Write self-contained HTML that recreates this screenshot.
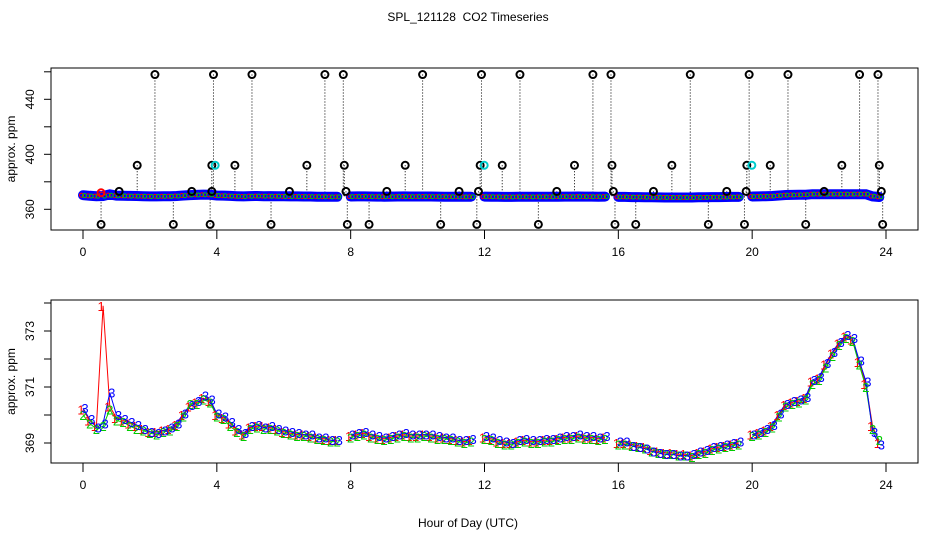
<!DOCTYPE html>
<html><head><meta charset="utf-8"><style>
html,body{margin:0;padding:0;background:#fff;}
svg{display:block;font-family:"Liberation Sans",sans-serif;}
text{white-space:pre;}
</style></head><body>
<svg id="chart" width="936" height="540" viewBox="0 0 936 540" xmlns="http://www.w3.org/2000/svg">
<text x="468" y="21" font-size="12" text-anchor="middle" xml:space="preserve">SPL_121128  CO2 Timeseries</text>
<text x="468" y="527" font-size="12" text-anchor="middle">Hour of Day (UTC)</text>
<g id="topPanel"></g>
<g id="botPanel"></g>
</svg>
<script>
const hourStep = 0.2;
const xTicks = [0,4,8,12,16,20,24];
const topYTicks = [360,380,400,420,440,460];
const topYLabels = ["360","","400","","440",""];
const botYTicks = [369,370,371,372,373,374];
const botYLabels = ["369","","371","","373",""];
const series1 = [370.2,369.8,369.6,373.9,370.3,369.9,369.8,369.7,369.6,369.5,369.4,369.4,369.45,369.5,369.65,370.0,370.3,370.45,370.6,370.5,370.0,369.9,369.7,369.45,369.3,369.55,369.6,369.6,369.55,369.5,369.4,369.35,369.3,369.3,369.25,369.2,369.15,369.1,369.1,null,369.25,369.3,369.35,369.25,369.2,369.15,369.2,369.25,369.3,369.25,369.25,369.3,369.25,369.2,369.2,369.15,369.1,369.05,369.1,null,369.2,369.15,369.05,369.0,369.0,369.05,369.1,369.05,369.05,369.1,369.1,369.15,369.2,369.2,369.25,369.2,369.2,369.15,369.2,null,369.0,369.0,368.95,368.9,368.85,368.75,368.7,368.65,368.65,368.6,368.6,368.55,368.65,368.7,368.8,368.85,368.9,368.95,369.0,null,369.3,369.35,369.45,369.6,370.0,370.35,370.45,370.5,370.6,371.2,371.3,371.8,372.2,372.55,372.8,372.7,371.9,371.1,369.6,369.0];
const series2 = [370.0,369.7,369.5,369.6,370.2,369.8,369.75,369.6,369.5,369.45,369.35,369.3,369.4,369.45,369.6,369.95,370.4,370.4,370.55,370.45,369.95,369.85,369.6,369.4,369.25,369.5,369.55,369.5,369.5,369.45,369.35,369.3,369.25,369.25,369.2,369.15,369.1,369.05,369.05,null,369.2,369.25,369.3,369.2,369.15,369.1,369.15,369.2,369.25,369.2,369.2,369.25,369.2,369.15,369.15,369.1,369.05,369.0,369.05,null,369.15,369.1,369.0,368.95,368.95,369.0,369.05,369.0,369.0,369.05,369.05,369.1,369.15,369.15,369.2,369.15,369.15,369.1,369.15,null,368.95,368.95,368.9,368.85,368.8,368.7,368.65,368.6,368.6,368.55,368.55,368.5,368.6,368.65,368.75,368.8,368.85,368.9,368.95,null,369.25,369.3,369.4,369.55,369.95,370.3,370.4,370.45,370.55,371.1,371.25,371.7,372.1,372.5,372.75,372.65,371.8,371.0,369.5,369.1];
const series3 = [370.25,369.85,369.55,369.7,370.8,370.0,369.85,369.75,369.65,369.5,369.4,369.35,369.45,369.55,369.7,370.05,370.35,370.5,370.7,370.55,370.05,369.95,369.75,369.5,369.35,369.6,369.65,369.55,369.6,369.5,369.45,369.4,369.35,369.3,369.3,369.2,369.2,369.1,369.1,null,369.3,369.35,369.4,369.3,369.25,369.2,369.25,369.3,369.35,369.3,369.3,369.3,369.3,369.25,369.2,369.2,369.1,369.1,369.15,null,369.25,369.2,369.1,369.05,369.0,369.1,369.15,369.1,369.1,369.15,369.15,369.2,369.25,369.25,369.3,369.25,369.25,369.2,369.25,null,369.05,369.05,368.9,368.85,368.8,368.7,368.65,368.6,368.6,368.55,368.55,368.6,368.7,368.75,368.85,368.9,368.95,369.0,369.05,null,369.3,369.4,369.5,369.65,370.05,370.4,370.5,370.55,370.65,371.25,371.35,371.85,372.25,372.6,372.85,372.75,371.95,371.2,369.4,368.95];
const outlierHours = [0.54,1.08,1.62,2.15,2.7,3.25,3.8,3.85,3.85,3.9,4.54,5.05,5.62,6.17,6.69,7.23,7.78,7.81,7.86,7.9,8.55,9.08,9.63,10.15,10.69,11.24,11.77,11.82,11.87,11.91,12.53,13.06,13.61,14.16,14.69,15.24,15.78,15.81,15.85,15.9,16.52,17.05,17.6,18.15,18.69,19.24,19.77,19.82,19.84,19.91,20.54,21.07,21.6,22.15,22.68,23.21,23.76,23.8,23.86,23.9];
const outlierValues = [349,373,392,458,349,373,349,373,392,458,392,458,349,373,392,458,458,392,373,349,349,373,392,458,349,373,349,373,392,458,392,458,349,373,392,458,458,392,373,349,349,373,392,458,349,373,349,373,392,458,392,458,349,373,392,458,458,392,373,349];
const cyanHours = [3.95,11.99,19.99];
const cyanValues = [392,392,392];

const NS="http://www.w3.org/2000/svg";
function mk(tag,attrs,parent){const e=document.createElementNS(NS,tag);for(const k in attrs)e.setAttribute(k,attrs[k]);parent.appendChild(e);return e;}
const X0=51,X1=918;
function xs(h){return 83+h*(886-83)/24;}
const topP={y0:68,y1:230,ys:v=>209.3-(v-360)*(110/80)};
const botP={y0:300,y1:463,ys:v=>443-(v-369)*28};
const colors=["#ff0000","#00cc00","#0000ff"];
const allSeries=[series1,series2,series3];

function axes(g,p,yt,yl,name){
  const box=mk('rect',{x:X0,y:p.y0,width:X1-X0,height:p.y1-p.y0,fill:'none',stroke:'#000','stroke-width':1},g);
  
  
  const xa=mk('g',{},g);
  
  
  xTicks.forEach(t=>{
    mk('line',{x1:xs(t),x2:xs(t),y1:p.y1,y2:p.y1+9,stroke:'#000'},xa);
    const tx=mk('text',{x:xs(t),y:p.y1+26,'font-size':12,'text-anchor':'middle'},xa);
    tx.textContent=t;
    
    
  });
  const ya=mk('g',{},g);
  
  
  yt.forEach((t,i)=>{
    const y=p.ys(t);
    mk('line',{x1:X0-7,x2:X0,y1:y,y2:y,stroke:'#000'},ya);
    if(yl[i]){
      const tx=mk('text',{x:34,y:y,'font-size':12,'text-anchor':'middle',transform:`rotate(-90 34 ${y})`},ya);
      tx.textContent=yl[i];
      
      
    }
  });
  const cy=(p.y0+p.y1)/2;
  const yt2=mk('text',{x:15,y:cy,'font-size':12,'text-anchor':'middle',transform:`rotate(-90 15 ${cy})`},g);
  yt2.textContent='approx. ppm';
  
  
}

// top panel
const topG=document.getElementById('topPanel');
axes(topG,topP,topYTicks,topYLabels,'top');
outlierHours.forEach((h,i)=>{
  const ln=mk('line',{x1:xs(h),x2:xs(h),y1:topP.ys(outlierValues[i]),y2:topP.ys(369.5),stroke:'#000','stroke-width':1,'stroke-dasharray':'1,2'},topG);
  
  
});
{
  let d='',pen=false;
  series3.forEach((v,i)=>{
    if(v===null){pen=false;return;}
    d+=(pen?'L':'M')+xs(i*hourStep).toFixed(1)+','+topP.ys(Math.min(v,371)).toFixed(1);pen=true;
  });
  const band=mk('path',{d:d,fill:'none',stroke:'#0000ff','stroke-width':10,'stroke-linecap':'round'},topG);
  
  
}
[0,1].forEach(si=>{
  allSeries[si].forEach((v,i)=>{
    if(v===null)return;
    const c=mk('circle',{cx:xs(i*hourStep)+(si?1.5:-1.5),cy:topP.ys(Math.min(v,371)),r:2,fill:'none',stroke:colors[si],'stroke-width':1},topG);
    
    
  });
});
outlierHours.forEach((h,i)=>{
  const c=mk('circle',{cx:xs(h),cy:topP.ys(outlierValues[i]),r:3.5,fill:'none',stroke:'#000','stroke-width':2},topG);
  
  
});
cyanHours.forEach((h,i)=>{
  const c=mk('circle',{cx:xs(h),cy:topP.ys(cyanValues[i]),r:3.5,fill:'none',stroke:'#00cccc','stroke-width':2},topG);
  
  
});
{
  const c=mk('circle',{cx:xs(0.54),cy:topP.ys(372),r:3.5,fill:'none',stroke:'#ff0000','stroke-width':2},topG);
  
  
}

// bottom panel
const botG=document.getElementById('botPanel');
axes(botG,botP,botYTicks,botYLabels,'bottom');
allSeries.forEach((s,si)=>{
  let d='',pen=false;
  s.forEach((v,i)=>{
    if(v===null){pen=false;return;}
    d+=(pen?'L':'M')+xs(i*hourStep).toFixed(1)+','+botP.ys(v).toFixed(1);pen=true;
  });
  const p=mk('path',{d:d,fill:'none',stroke:colors[si],'stroke-width':1},botG);
  
  
});
allSeries.forEach((s,si)=>{
  s.forEach((v,i)=>{
    if(v===null)return;
    const t=mk('text',{x:xs(i*hourStep)+(si-1)*2,y:botP.ys(v)+5,'font-size':13,'text-anchor':'middle',fill:colors[si]},botG);
    t.textContent=String(si+1);
    
    
  });
});
</script>
</body></html>
